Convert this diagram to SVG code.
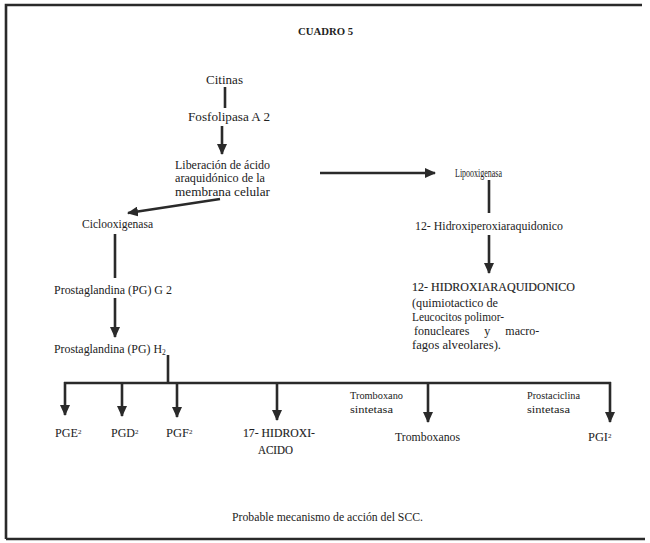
<svg xmlns="http://www.w3.org/2000/svg" width="650" height="543" viewBox="0 0 650 543">
<style>
text{font-family:"Liberation Serif","Times New Roman",serif;fill:#222;font-size:12px}
.t{font-weight:bold;font-size:10.5px}
.b{font-size:12px;stroke:#222;stroke-width:0.15}
.s{font-size:10.5px}
.c{stroke:#2a2a2a;stroke-width:2.6;fill:none}
.fr{stroke:#2a2a2a;stroke-width:2.6;fill:none}
</style>
<defs>
<marker id="ah" markerUnits="userSpaceOnUse" markerWidth="11" markerHeight="10" refX="10" refY="5" orient="auto">
<path d="M0,0 L11,5 L0,10 z" fill="#2a2a2a"/>
</marker>
</defs>
<rect width="650" height="543" fill="#fff"/>
<path class="fr" d="M6,539 L6,5 L642,5 M6,539 L645,539"/>
<text class="t" x="298" y="35" textLength="55" lengthAdjust="spacingAndGlyphs">CUADRO 5</text>
<g id="connectors">
<line class="c" x1="225" y1="87" x2="225" y2="108"/>
<line class="c" x1="222" y1="126" x2="222" y2="154" marker-end="url(#ah)"/>
<line class="c" x1="220" y1="199" x2="128" y2="213" marker-end="url(#ah)"/>
<line class="c" x1="320" y1="173" x2="435" y2="173" marker-end="url(#ah)"/>
<line class="c" x1="489" y1="180" x2="489" y2="213"/>
<line class="c" x1="489" y1="235" x2="489" y2="273" marker-end="url(#ah)"/>
<line class="c" x1="115" y1="234" x2="115" y2="278"/>
<line class="c" x1="115" y1="298" x2="115" y2="337" marker-end="url(#ah)"/>
<line class="c" x1="168" y1="355" x2="168" y2="383"/>
<line class="c" x1="64" y1="383" x2="611" y2="383"/>
<line class="c" x1="65" y1="382" x2="65" y2="415" marker-end="url(#ah)"/>
<line class="c" x1="122" y1="383" x2="122" y2="416" marker-end="url(#ah)"/>
<line class="c" x1="177" y1="383" x2="177" y2="417" marker-end="url(#ah)"/>
<line class="c" x1="277" y1="383" x2="277" y2="420" marker-end="url(#ah)"/>
<line class="c" x1="428" y1="383" x2="428" y2="422" marker-end="url(#ah)"/>
<line class="c" x1="610" y1="382" x2="610" y2="422" marker-end="url(#ah)"/>
</g>
<g id="citinas"><text x="206" y="84" textLength="37" lengthAdjust="spacingAndGlyphs">Citinas</text></g>
<g id="fosfolipasa"><text x="188" y="121" textLength="82" lengthAdjust="spacingAndGlyphs">Fosfolipasa A 2</text></g>
<g id="liberacion">
<text x="175" y="169" textLength="95" lengthAdjust="spacingAndGlyphs">Liberación de ácido</text>
<text x="175" y="182" textLength="90" lengthAdjust="spacingAndGlyphs">araquidónico de la</text>
<text x="175" y="196" textLength="95" lengthAdjust="spacingAndGlyphs">membrana celular</text>
</g>
<g id="ciclooxigenasa"><text x="82" y="228" textLength="71" lengthAdjust="spacingAndGlyphs">Ciclooxigenasa</text></g>
<g id="pgg2"><text x="54" y="294" textLength="118" lengthAdjust="spacingAndGlyphs">Prostaglandina (PG) G 2</text></g>
<g id="pgh2"><text x="54" y="353"><tspan textLength="108" lengthAdjust="spacingAndGlyphs">Prostaglandina (PG) H</tspan><tspan font-size="7.5" dy="2">2</tspan></text></g>
<g id="lipooxigenasa"><text x="455" y="177" font-size="10.5" textLength="47" lengthAdjust="spacingAndGlyphs">Lipooxigenasa</text></g>
<g id="hidroxiperoxi"><text x="415" y="230" textLength="148" lengthAdjust="spacingAndGlyphs">12- Hidroxiperoxiaraquidonico</text></g>
<g id="hidroxiaraquidonico">
<text class="b" x="412" y="291" textLength="163" lengthAdjust="spacingAndGlyphs">12- HIDROXIARAQUIDONICO</text>
<text x="412" y="307" textLength="86" lengthAdjust="spacingAndGlyphs">(quimiotactico de</text>
<text x="412" y="321" textLength="92" lengthAdjust="spacingAndGlyphs">Leucocitos polimor-</text>
<text x="414" y="335" word-spacing="12">fonucleares y macro-</text>
<text x="412" y="349" textLength="89" lengthAdjust="spacingAndGlyphs">fagos alveolares).</text>
</g>
<g id="pge2"><text x="55" y="437"><tspan textLength="23" lengthAdjust="spacingAndGlyphs">PGE</tspan><tspan font-size="7" dy="-3">2</tspan></text></g>
<g id="pgd2"><text x="111" y="437"><tspan textLength="24" lengthAdjust="spacingAndGlyphs">PGD</tspan><tspan font-size="7" dy="-3">2</tspan></text></g>
<g id="pgf2"><text x="166" y="437"><tspan textLength="23" lengthAdjust="spacingAndGlyphs">PGF</tspan><tspan font-size="7" dy="-3">2</tspan></text></g>
<g id="hidroxiacido">
<text class="b" x="243" y="437" textLength="72" lengthAdjust="spacingAndGlyphs">17- HIDROXI-</text>
<text class="b" x="258" y="454" textLength="35" lengthAdjust="spacingAndGlyphs">ACIDO</text>
</g>
<g id="tromboxano-sintetasa">
<text class="s" x="350" y="399" textLength="53" lengthAdjust="spacingAndGlyphs">Tromboxano</text>
<text class="s" x="350" y="413" textLength="43" lengthAdjust="spacingAndGlyphs">sintetasa</text>
</g>
<g id="tromboxanos"><text x="395" y="441" textLength="65" lengthAdjust="spacingAndGlyphs">Tromboxanos</text></g>
<g id="prostaciclina-sintetasa">
<text class="s" x="527" y="399" textLength="53" lengthAdjust="spacingAndGlyphs">Prostaciclina</text>
<text class="s" x="527" y="413" textLength="43" lengthAdjust="spacingAndGlyphs">sintetasa</text>
</g>
<g id="pgi2"><text x="588" y="441"><tspan textLength="20" lengthAdjust="spacingAndGlyphs">PGI</tspan><tspan font-size="7" dy="-3">2</tspan></text></g>
<text x="232" y="521" textLength="191" lengthAdjust="spacingAndGlyphs">Probable mecanismo de acción del SCC.</text>
</svg>
